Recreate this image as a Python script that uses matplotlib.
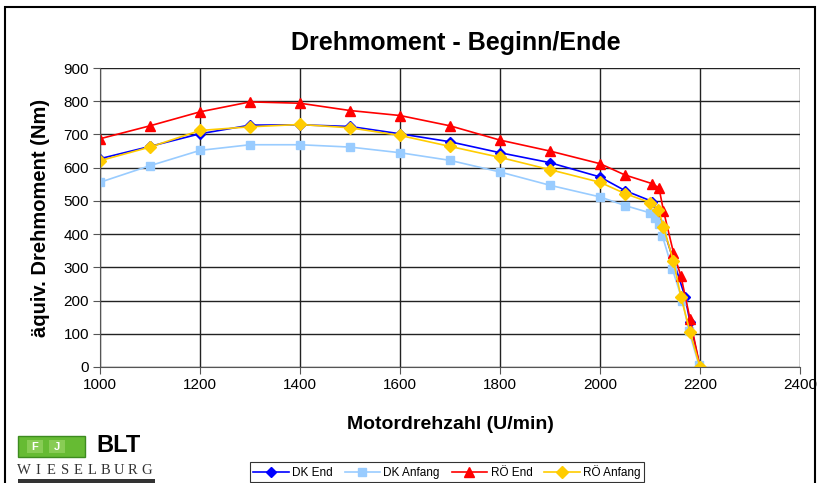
import matplotlib.pyplot as plt
from matplotlib.patches import Rectangle

plt.rcParams['font.family'] = ['Liberation Sans', 'DejaVu Sans']

# Données (Motordrehzahl U/min -> Drehmoment Nm)
dk_end_x = [1000, 1100, 1200, 1300, 1400, 1500, 1600, 1700, 1800, 1900, 2000, 2050, 2105, 2125, 2147, 2170, 2180, 2200]
dk_end_y = [627, 664, 702, 728, 729, 724, 702, 678, 645, 615, 572, 531, 498, 425, 320, 212, 135, 0]

dk_anf_x = [1000, 1100, 1200, 1300, 1400, 1500, 1600, 1700, 1800, 1900, 2000, 2050, 2100, 2110, 2118, 2125, 2145, 2165, 2178, 2198]
dk_anf_y = [556, 606, 652, 669, 669, 662, 645, 622, 587, 547, 512, 486, 464, 447, 430, 393, 294, 199, 107, 5]

ro_end_x = [1000, 1100, 1200, 1300, 1400, 1500, 1600, 1700, 1800, 1900, 2000, 2050, 2104, 2118, 2127, 2147, 2162, 2180, 2200]
ro_end_y = [687, 726, 768, 798, 794, 772, 757, 726, 683, 650, 612, 578, 552, 539, 470, 344, 273, 145, 0]

ro_anf_x = [1000, 1100, 1200, 1300, 1400, 1500, 1600, 1700, 1800, 1900, 2000, 2050, 2100, 2117, 2127, 2147, 2162, 2180, 2200]
ro_anf_y = [621, 662, 712, 723, 730, 720, 697, 664, 631, 594, 556, 522, 495, 474, 421, 318, 210, 106, 0]

fig = plt.figure(figsize=(8.2, 4.83), dpi=100)
ax = fig.add_axes([100 / 820, 1 - 367 / 483, 700 / 820, 299 / 483])

ax.plot(dk_end_x, dk_end_y, color='#0000FF', marker='D', markersize=5, lw=1.2, label='DK End')
ax.plot(dk_anf_x, dk_anf_y, color='#99CCFF', marker='s', markersize=6, lw=1.2, label='DK Anfang')
ax.plot(ro_end_x, ro_end_y, color='#FF0000', marker='^', markersize=7, lw=1.2, label='RÖ End')
ax.plot(ro_anf_x, ro_anf_y, color='#FFCC00', marker='D', markersize=6, lw=1.2, label='RÖ Anfang')

ax.set_xlim(1000, 2400)
ax.set_ylim(0, 900)
ax.set_xticks(range(1000, 2401, 200))
ax.set_yticks(range(0, 901, 100))
ax.grid(True, color='#222222', lw=1)
ax.set_axisbelow(True)
for s in ['top', 'right']:
    ax.spines[s].set_visible(False)
for s in ['left', 'bottom']:
    ax.spines[s].set_color('#555555')
ax.tick_params(direction='out', length=5, color='#555555', labelsize=11, pad=3)

ax.set_xlabel('Motordrehzahl (U/min)', fontsize=14, fontweight='bold')
ax.set_ylabel('äquiv. Drehmoment (Nm)', fontsize=14.5, fontweight='bold')
ax.xaxis.set_label_coords(0.501, -0.164)
ax.yaxis.set_label_coords(-0.071, 0.5)
fig.text(456 / 820, 1 - 43 / 483, 'Drehmoment - Beginn/Ende', fontsize=18, fontweight='bold',
         ha='center', va='center')

leg = fig.legend(loc='upper center', bbox_to_anchor=(0.545, 1 - 462 / 483), ncol=4,
                 fontsize=8.5, frameon=True, fancybox=False, handlelength=3,
                 columnspacing=1.0, handletextpad=0.3, borderpad=0.25, borderaxespad=0)
leg.get_frame().set_edgecolor('black')
leg.get_frame().set_linewidth(0.8)

# Cadre autour de la figure
fig.patches.append(Rectangle((5 / 820, -0.05), 810 / 820, 1 - 7 / 483 + 0.05,
                             transform=fig.transFigure, fill=False, ec='black', lw=1.5))

# Logo BLT Wieselburg
fig.patches.append(Rectangle((18 / 820, 1 - 457 / 483), 67 / 820, 21 / 483,
                             transform=fig.transFigure, fc='#66BB33', ec='#3D8B1F', lw=1))
for lx, letter in [(27, 'F'), (49, 'J')]:
    fig.patches.append(Rectangle((lx / 820, 1 - 453 / 483), 16 / 820, 13 / 483,
                                 transform=fig.transFigure, fc='#88CC55', ec='none'))
    fig.text((lx + 8) / 820, 1 - 446.5 / 483, letter, color='white', fontsize=8,
             fontweight='bold', ha='center', va='center')
fig.text(96 / 820, 1 - 446 / 483, 'BLT', color='black', fontsize=17, fontweight='bold',
         ha='left', va='center')
for i, letter in enumerate('WIESELBURG'):
    fig.text((24 + i * 13.6) / 820, 1 - 470 / 483, letter, color='#333333', fontsize=10.5,
             family='Liberation Serif', ha='center', va='center')
fig.patches.append(Rectangle((18 / 820, 1 - 483 / 483), 137 / 820, 4 / 483,
                             transform=fig.transFigure, fc='#333333', ec='none'))

fig.savefig('out.png', dpi=100)
